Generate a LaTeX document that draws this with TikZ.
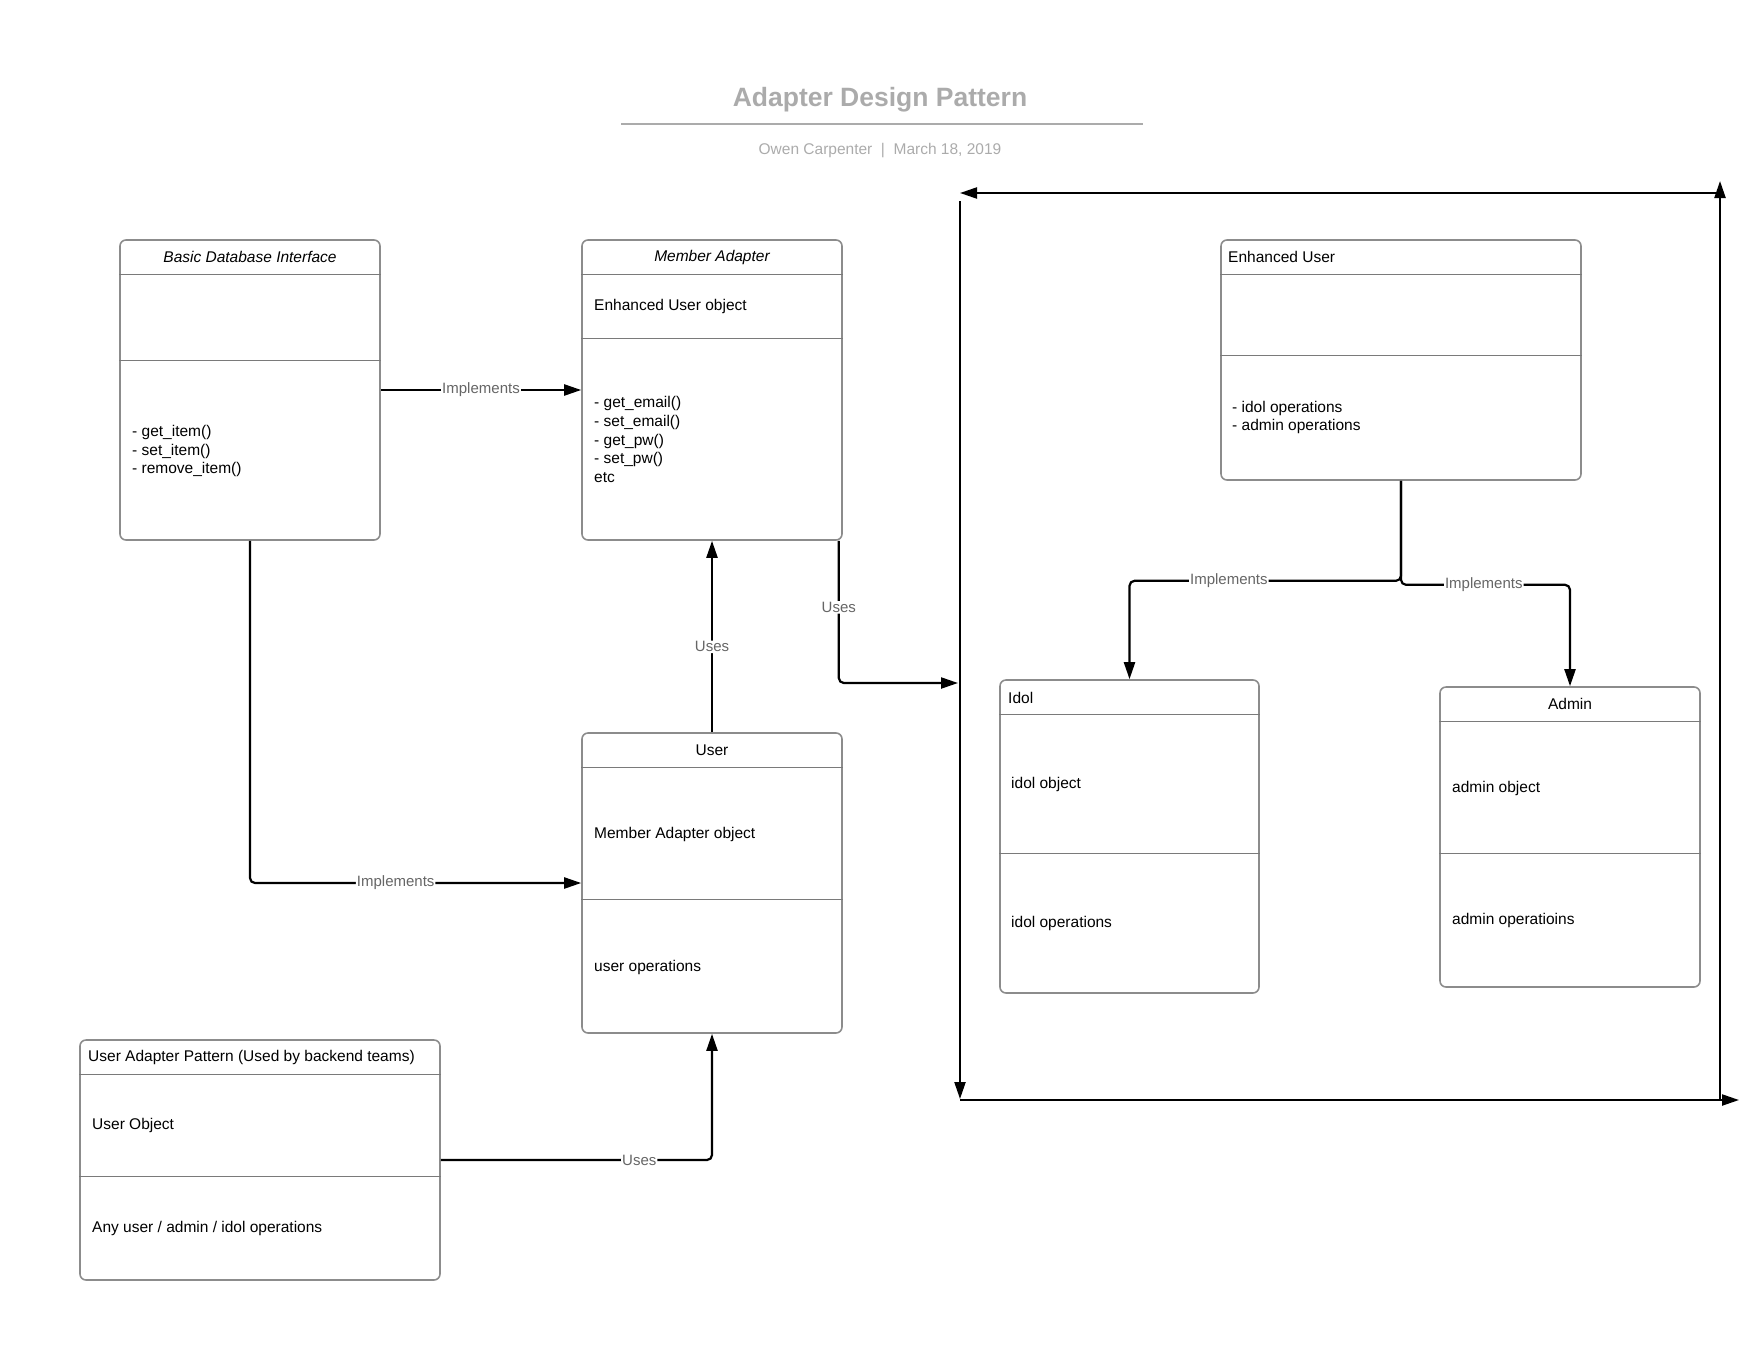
\documentclass[tikz,border=0pt]{standalone}
\usepackage{fontspec}
\setmainfont{Liberation Sans}
\usetikzlibrary{positioning}
\usetikzlibrary{arrows.meta}
\definecolor{boxgray}{HTML}{8C8C8C}
\definecolor{sepgray}{HTML}{7A7A7A}
\definecolor{labelgray}{HTML}{666666}
\definecolor{titlegray}{HTML}{ABABAB}
\tikzset{
classbox/.style={
  draw=boxgray,line width=1.6pt,rounded corners=6pt,
  minimum width=260pt,minimum height=300pt,inner sep=0pt},
sepline/.style={draw=sepgray,line width=1.1pt},
txt/.style={
  anchor=west,inner sep=0pt,align=left,yshift=-2pt,font=\fontsize{15.5}{18.7}\selectfont},
ctxt/.style={txt,anchor=center},
conn/.style={
  draw,line width=2.2pt,rounded corners=5pt,-{Triangle[length=17pt,width=11pt]}},
framearrow/.style={draw,line width=2.2pt,-{Triangle[length=17pt,width=11pt]}},
lbl/.style={fill=white,inner sep=1pt,text=labelgray,font=\fontsize{15}{18}\selectfont}
}

\begin{document}
\begin{tikzpicture}[x=1pt,y=-1pt]
\useasboundingbox (0,0) rectangle (1760,1360);

% heading
\node[font=\fontsize{26.5}{30}\selectfont\bfseries,text=titlegray](title) at (880,100){Adapter Design Pattern};
\coordinate (rulel) at (621,123.5);
\coordinate (ruler) at (1143,123.5);
\draw[titlegray,line width=2pt](rulel)--(ruler);
\node[font=\fontsize{15.5}{18}\selectfont,text=titlegray](subtitle) at (880,150.5){Owen Carpenter\ \ |\ \ March 18, 2019};

% basic database interface
\node[classbox](bdi) at (250,390){};
\draw[sepline]([yshift=-35pt]bdi.north west)--([yshift=-35pt]bdi.north east);
\draw[sepline]([yshift=-121pt]bdi.north west)--([yshift=-121pt]bdi.north east);
\node[ctxt](bdititle) at (250,255){\itshape Basic Database Interface};
\node[txt](bdiops) at (132,449){- get\_item()\\- set\_item()\\- remove\_item()};

% member adapter
\node[classbox](ma) at (712,390){};
\draw[sepline]([yshift=-35pt]ma.north west)--([yshift=-35pt]ma.north east);
\draw[sepline]([yshift=-99pt]ma.north west)--([yshift=-99pt]ma.north east);
\node[ctxt](matitle) at (712,255){\itshape Member Adapter};
\node[txt](maobj) at (594,304){Enhanced User object};
\node[txt](maops) at (594,437.5){- get\_email()\\- set\_email()\\- get\_pw()\\- set\_pw()\\etc};

% user
\node[classbox](user) at (712,883){};
\draw[sepline]([yshift=-35pt]user.north west)--([yshift=-35pt]user.north east);
\draw[sepline]([yshift=-167pt]user.north west)--([yshift=-167pt]user.north east);
\node[ctxt](usertitle) at (712,748){User};
\node[txt](userobj) at (594,832){Member Adapter object};
\node[txt](userops) at (594,965){user operations};

% user adapter pattern
\node[classbox,minimum width=360pt,minimum height=240pt](uap) at (260,1160){};
\draw[sepline]([yshift=-35pt]uap.north west)--([yshift=-35pt]uap.north east);
\draw[sepline]([yshift=-137pt]uap.north west)--([yshift=-137pt]uap.north east);
\node[txt](uaptitle) at (88,1055){User Adapter Pattern (Used by backend teams)};
\node[txt](uapobj) at (92,1123){User Object};
\node[txt](uapops) at (92,1226){Any user / admin / idol operations};

% enhanced user
\node[classbox,minimum width=360pt,minimum height=240pt](eu) at (1401,360){};
\draw[sepline]([yshift=-35pt]eu.north west)--([yshift=-35pt]eu.north east);
\draw[sepline]([yshift=-116pt]eu.north west)--([yshift=-116pt]eu.north east);
\node[txt](eutitle) at (1228,255){Enhanced User};
\node[txt](euops) at (1232,415.5){- idol operations\\- admin operations};

% idol
\node[classbox,minimum width=259pt,minimum height=313pt](idol) at (1129.5,836.5){};
\draw[sepline]([yshift=-35pt]idol.north west)--([yshift=-35pt]idol.north east);
\draw[sepline]([yshift=-174pt]idol.north west)--([yshift=-174pt]idol.north east);
\node[txt](idoltitle) at (1008,696){Idol};
\node[txt](idolobj) at (1011,782){idol object};
\node[txt](idolops) at (1011,921){idol operations};

% admin
\node[classbox](admin) at (1570,837){};
\draw[sepline]([yshift=-35pt]admin.north west)--([yshift=-35pt]admin.north east);
\draw[sepline]([yshift=-167pt]admin.north west)--([yshift=-167pt]admin.north east);
\node[ctxt](admintitle) at (1570,702){Admin};
\node[txt](adminobj) at (1452,786){admin object};
\node[txt](adminops) at (1452,918){admin operatioins};

% frame arrows
\coordinate (ftl) at (960,193);
\coordinate (ftr) at (1720,193);
\coordinate (fbl) at (960,1100);
\coordinate (fbr) at (1720,1100);
\coordinate (fin) at (958,683);
\draw[framearrow](ftr)--(ftl);
\draw[framearrow]([yshift=-8pt]ftl)--([yshift=1pt]fbl);
\draw[framearrow](fbl)--([xshift=19pt]fbr);
\draw[framearrow](fbr)--([yshift=12pt]ftr);

% connectors
\draw[conn](bdi.east)--node[lbl](impma){Implements}(ma.west);
\draw[conn](bdi.south)|-node[lbl,pos=0.72](impuser){Implements}(user.west);
\draw[conn](uap.east)-|node[lbl,pos=0.366](usesuser){Uses}(user.south);
\draw[conn](user.north)--node[lbl,pos=0.446](usesma){Uses}(ma.south);
\draw[conn]([xshift=-4pt]ma.south east)|-node[lbl,pos=0.234](usesframe){Uses}(fin);
\draw[conn](eu.south)--++(0,100)-|node[lbl,pos=0.317](impidol){Implements}(idol.north);
\draw[conn](eu.south)--++(0,104)-|node[lbl,pos=0.245](impadmin){Implements}(admin.north);

\end{tikzpicture}
\end{document}
